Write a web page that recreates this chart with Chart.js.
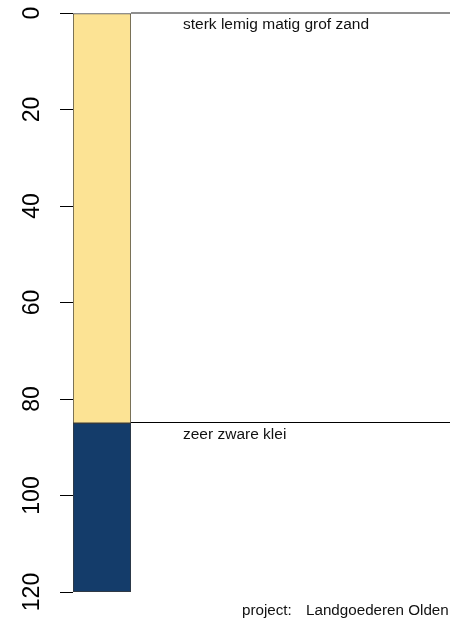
<!DOCTYPE html>
<html>
<head>
<meta charset="utf-8">
<script src="https://cdn.jsdelivr.net/npm/chart.js@4.4.1/dist/chart.umd.min.js"></script>
<style>
  html, body { margin: 0; padding: 0; background: #ffffff; }
  #wrap { width: 450px; height: 618px; position: relative; }
</style>
</head>
<body>
<div id="wrap"><canvas id="profile" width="450" height="618"></canvas></div>
<script>
// Soil layers (depth in cm)
const layerNames  = ['sterk lemig matig grof zand', 'zeer zware klei'];
const layerTop    = [0, 85];
const layerBottom = [85, 120];
const layerColors = ['#FCE394', '#143C6A'];
const depthTicks  = [0, 20, 40, 60, 80, 100, 120];
const projectName = 'Landgoederen Olden';

const FONT = '"Liberation Sans", Arial, sans-serif';

const datasets = layerNames.map((name, i) => ({
  label: name,
  data: [[layerTop[i], layerBottom[i]]],
  backgroundColor: layerColors[i],
  borderColor: '#3a3a3a',
  borderWidth: 1,
  borderSkipped: false,
  categoryPercentage: 1.0,
  barPercentage: 1.0
}));

// Layer boundary lines, layer names, rotated depth labels and project caption
const profileDecor = {
  id: 'profileDecor',
  afterDatasetsDraw(chart) {
    const { ctx, chartArea, scales } = chart;
    const y = scales.y;
    const W = chart.width;
    ctx.save();

    // boundary lines and names
    ctx.lineWidth = 1;
    ctx.fillStyle = '#111';
    ctx.font = '15.5px ' + FONT;
    ctx.textAlign = 'left';
    ctx.textBaseline = 'alphabetic';
    layerNames.forEach((name, i) => {
      const py = y.getPixelForValue(layerTop[i]);
      const snapped = Math.round(py) - 0.5;
      ctx.strokeStyle = i === 0 ? '#6a6a6a' : '#000';
      ctx.lineWidth = i === 0 ? 1.6 : 1;
      ctx.beginPath();
      ctx.moveTo(chartArea.right, i === 0 ? py : snapped);
      ctx.lineTo(W, i === 0 ? py : snapped);
      ctx.stroke();
      ctx.fillText(name, chartArea.right + 52, py + 16);
    });

    // rotated depth labels
    ctx.fillStyle = '#000';
    ctx.font = '23px ' + FONT;
    ctx.textAlign = 'center';
    ctx.textBaseline = 'middle';
    y.ticks.forEach(t => {
      const py = y.getPixelForValue(t.value);
      ctx.save();
      ctx.translate(32, py);
      ctx.rotate(-Math.PI / 2);
      ctx.scale(1, 1.08);
      ctx.fillText(String(t.value), 0, 0);
      ctx.restore();
    });

    // project caption
    ctx.fillStyle = '#111';
    ctx.font = '15.2px ' + FONT;
    ctx.textAlign = 'left';
    ctx.textBaseline = 'alphabetic';
    ctx.fillText('project:', 242, 615);
    ctx.fillText(projectName, 306, 615);

    ctx.restore();
  }
};

new Chart(document.getElementById('profile'), {
  type: 'bar',
  data: { labels: ['profiel'], datasets },
  options: {
    responsive: false,
    animation: false,
    events: [],
    layout: { padding: { left: 60, right: 319, top: 13, bottom: 26 } },
    plugins: { legend: { display: false }, tooltip: { enabled: false } },
    scales: {
      x: {
        display: false,
        stacked: true
      },
      y: {
        stacked: false,
        reverse: true,
        min: 0,
        max: 120,
        afterBuildTicks(scale) {
          scale.ticks = depthTicks.map(v => ({ value: v }));
        },
        afterFit(scale) { scale.width = 13; },
        ticks: { display: false },
        border: { display: false },
        grid: {
          drawOnChartArea: false,
          drawTicks: true,
          tickLength: 13,
          color: '#000',
          lineWidth: 1
        }
      }
    }
  },
  plugins: [profileDecor]
});
</script>
</body>
</html>
